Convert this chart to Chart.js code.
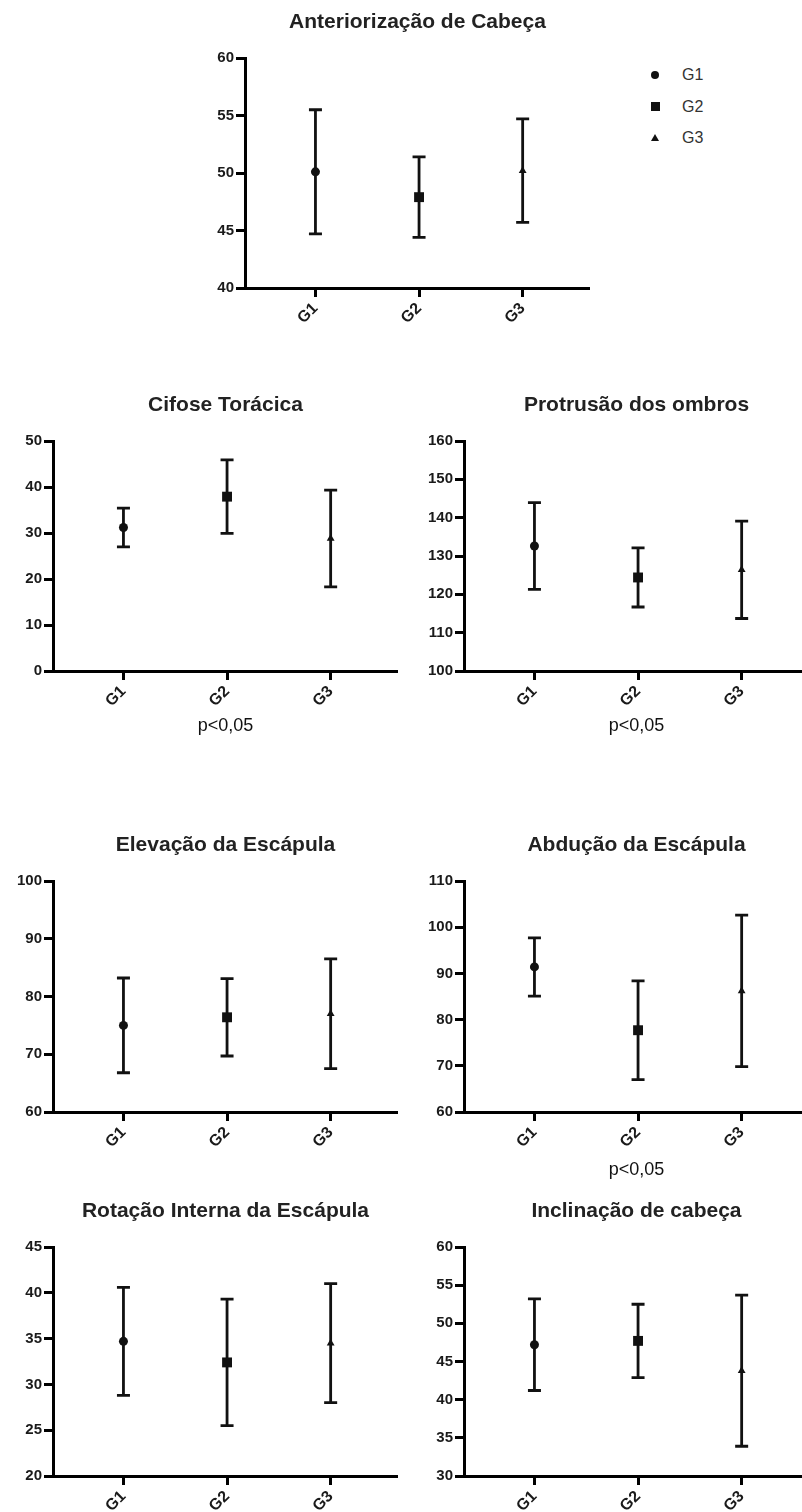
<!DOCTYPE html>
<html>
<head>
<meta charset="utf-8">
<script src="https://cdn.jsdelivr.net/npm/chart.js@4.4.1/dist/chart.umd.min.js"></script>
<style>
  html, body { margin: 0; padding: 0; background: #fff; overflow: hidden; }
  body { width: 802px; height: 1512px; position: relative; }
  canvas { position: absolute; }
  #legend { position: absolute; left: 650px; top: 64px; font: 16px "Liberation Sans", Arial, sans-serif; color: #333; }
  .row { position: absolute; left: 0; height: 22px; line-height: 22px; padding-left: 32px; white-space: nowrap; }
  .mk { position: absolute; }
  .mk.circle { width: 8px; height: 8px; border-radius: 50%; background: #111; left: 1px; top: 7px; }
  .mk.rect { width: 9px; height: 9px; background: #111; left: 1px; top: 6px; }
  .mk.triangle { width: 0; height: 0; border-left: 4px solid transparent; border-right: 4px solid transparent; border-bottom: 7px solid #111; left: 1px; top: 7px; }
</style>
</head>
<body>
<div id="legend"></div>
<script>
const groups = ["G1", "G2", "G3"];
const symbols = ["circle", "rect", "triangle"];

// media e desvio padrao de cada grupo
const anteriorizacaoMean = [50.1, 47.9, 50.2];
const anteriorizacaoSd = [5.4, 3.5, 4.5];
const cifoseMean = [31.2, 37.9, 28.8];
const cifoseSd = [4.2, 8.0, 10.5];
const protrusaoMean = [132.6, 124.4, 126.4];
const protrusaoSd = [11.3, 7.7, 12.7];
const elevacaoMean = [75.0, 76.4, 77.0];
const elevacaoSd = [8.2, 6.7, 9.5];
const abducaoMean = [91.4, 77.7, 86.2];
const abducaoSd = [6.3, 10.7, 16.4];
const rotacaoMean = [34.7, 32.4, 34.5];
const rotacaoSd = [5.9, 6.9, 6.5];
const inclinacaoMean = [47.2, 47.7, 43.8];
const inclinacaoSd = [6.0, 4.8, 9.9];

// eixo y: min, max, passo
const anteriorizacaoAxis = [40, 60, 5];
const cifoseAxis = [0, 50, 10];
const protrusaoAxis = [100, 160, 10];
const elevacaoAxis = [60, 100, 10];
const abducaoAxis = [60, 110, 10];
const rotacaoAxis = [20, 45, 5];
const inclinacaoAxis = [30, 60, 5];

const titles = [
  "Anteriorização de Cabeça",
  "Cifose Torácica",
  "Protrusão dos ombros",
  "Elevação da Escápula",
  "Abdução da Escápula",
  "Rotação Interna da Escápula",
  "Inclinação de cabeça",
];
const notes = ["", "p<0,05", "p<0,05", "", "p<0,05", "", ""];

const means = [anteriorizacaoMean, cifoseMean, protrusaoMean, elevacaoMean, abducaoMean, rotacaoMean, inclinacaoMean];
const sds = [anteriorizacaoSd, cifoseSd, protrusaoSd, elevacaoSd, abducaoSd, rotacaoSd, inclinacaoSd];
const axes = [anteriorizacaoAxis, cifoseAxis, protrusaoAxis, elevacaoAxis, abducaoAxis, rotacaoAxis, inclinacaoAxis];

// left, top, width, height, altura do eixo x, espaco abaixo do p
const boxes = [
  [200, 0, 390, 338, 50, 0],
  [8, 383, 390, 363, 75, 9],
  [419, 383, 390, 363, 75, 9],
  [8, 823, 390, 339, 50, 0],
  [419, 823, 390, 364, 75, 6],
  [8, 1189, 390, 323, 36, 0],
  [419, 1189, 390, 323, 36, 0],
];

Chart.defaults.font.family = "'Liberation Sans', Arial, sans-serif";

// barras de erro (media +/- dp)
const errorBars = {
  id: "errorBars",
  beforeDatasetsDraw(chart) {
    const { ctx, scales: { x, y } } = chart;
    const ds = chart.data.datasets[0];
    ctx.save();
    ctx.strokeStyle = "#111";
    ctx.lineWidth = 2.8;
    ds.data.forEach((p, i) => {
      const px = x.getPixelForValue(p.x);
      const top = y.getPixelForValue(p.y + ds.sd[i]);
      const bot = y.getPixelForValue(p.y - ds.sd[i]);
      ctx.beginPath();
      ctx.moveTo(px, top);
      ctx.lineTo(px, bot);
      ctx.moveTo(px - 6.5, top);
      ctx.lineTo(px + 6.5, top);
      ctx.moveTo(px - 6.5, bot);
      ctx.lineTo(px + 6.5, bot);
      ctx.stroke();
    });
    ctx.restore();
  },
};

function makeChart(i) {
  const [left, top, width, height, xHeight, noteGap] = boxes[i];
  const canvas = document.createElement("canvas");
  canvas.width = width;
  canvas.height = height;
  canvas.style.left = left + "px";
  canvas.style.top = top + "px";
  document.body.appendChild(canvas);

  const axis = axes[i];

  new Chart(canvas, {
    type: "scatter",
    data: {
      datasets: [
        {
          data: means[i].map((m, k) => ({ x: k + 1, y: m })),
          sd: sds[i],
          pointStyle: symbols,
          pointRadius: [4.5, 7, 4.5],
          backgroundColor: "#111",
          borderColor: "#111",
          borderWidth: 0,
        },
      ],
    },
    options: {
      responsive: false,
      animation: false,
      layout: { padding: 0, autoPadding: false },
      plugins: {
        legend: { display: false },
        tooltip: { enabled: false },
        title: {
          display: true,
          text: titles[i],
          fullSize: false,
          font: { size: 21, weight: "bold" },
          color: "#222",
          padding: { top: 10, bottom: 22.8 },
        },
      },
      scales: {
        x: {
          type: "linear",
          min: 0.32,
          max: 3.65,
          afterBuildTicks: (s) => {
            s.ticks = groups.map((g, k) => ({ value: k + 1 }));
          },
          afterFit: (s) => {
            s.height = xHeight;
          },
          ticks: {
            callback: (v) => groups[v - 1],
            minRotation: 45,
            maxRotation: 45,
            autoSkip: false,
            padding: 2,
            font: { size: 16, weight: "bold" },
            color: "#1a1a1a",
          },
          grid: { drawOnChartArea: false, drawTicks: true, tickLength: 9, tickWidth: 3, tickColor: "#000" },
          border: { display: true, width: 3, color: "#000" },
          title: {
            display: notes[i] !== "",
            text: notes[i],
            font: { size: 18 },
            color: "#111",
            padding: { top: 0, bottom: noteGap },
          },
        },
        y: {
          min: axis[0],
          max: axis[1],
          afterFit: (s) => {
            s.width = 45;
          },
          ticks: { stepSize: axis[2], padding: 2, font: { size: 15, weight: "bold" }, color: "#1a1a1a" },
          grid: { drawOnChartArea: false, drawTicks: true, tickLength: 9, tickWidth: 3, tickColor: "#000" },
          border: { display: true, width: 3, color: "#000" },
        },
      },
    },
    plugins: [errorBars],
  });
}

titles.forEach((t, i) => makeChart(i));

// legenda
const legend = document.getElementById("legend");
groups.forEach((g, k) => {
  const row = document.createElement("div");
  row.className = "row";
  row.style.top = k * 31.5 + "px";
  row.innerHTML = '<span class="mk ' + symbols[k] + '"></span>' + g;
  legend.appendChild(row);
});
</script>
</body>
</html>
